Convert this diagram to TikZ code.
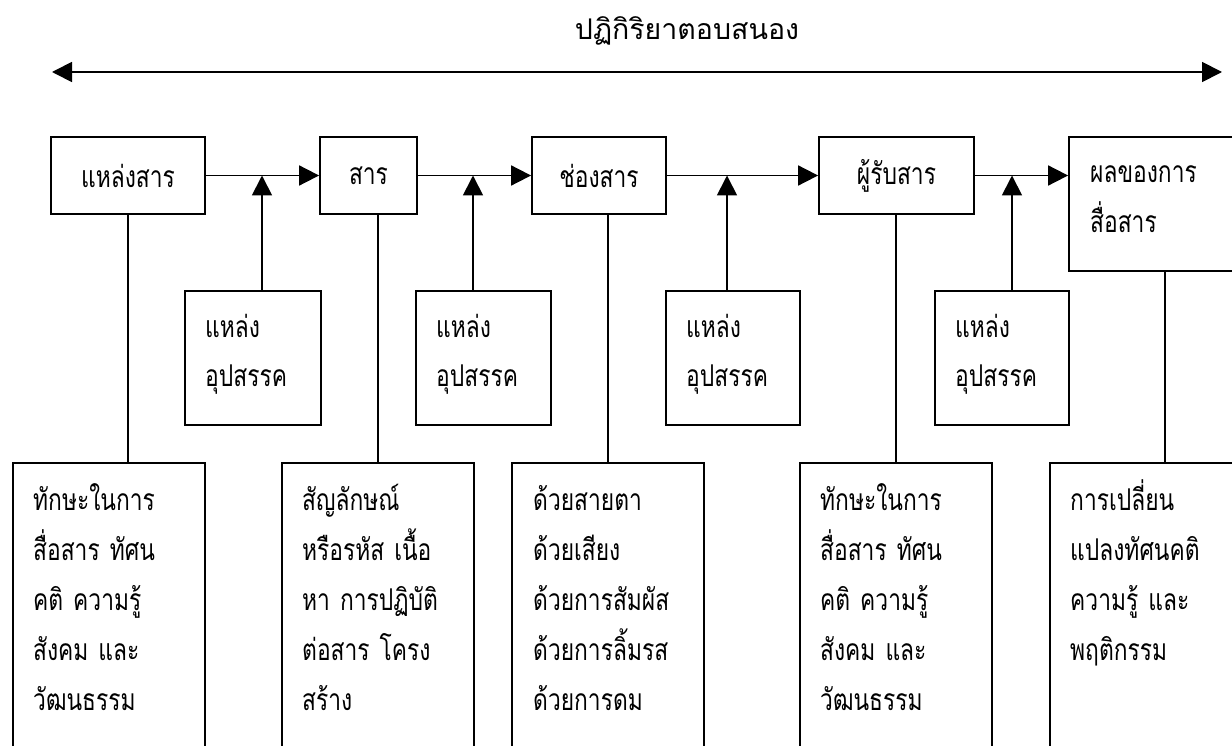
\documentclass[tikz,border=0pt]{standalone}
\usepackage{fontspec}
\newfontfamily\thai[Script=Thai]{Loma}
\newfontfamily\thaib[Script=Thai,FakeStretch=0.76]{Loma}
\usetikzlibrary{arrows.meta}
\begin{document}
\begin{tikzpicture}[x=1pt,y=-1pt,
  ln/.style={line width=1.8pt},
  arr/.style={ln,-{Triangle[length=20pt,width=20pt]}},
  dbl/.style={ln,{Triangle[length=20pt,width=20pt]}-{Triangle[length=20pt,width=20pt]}},
  box/.style={draw,line width=1.8pt,inner sep=0pt,font=\thaib\fontsize{30}{50}\selectfont},
  topbox/.style={box,minimum height=77pt},
  obbox/.style={box,minimum width=135pt,minimum height=134pt},
  btmbox/.style={box,minimum width=192pt,minimum height=317pt},
  txt/.style={inner sep=0pt,anchor=base west,text width=190pt,align=left,font=\thaib\fontsize{30}{50}\selectfont},
  ttl/.style={inner sep=0pt,anchor=base,font=\thai\fontsize{28.5}{36}\selectfont}
]
\useasboundingbox (0,0) rectangle (1232,746);
\clip (0,0) rectangle (1232,746);
\fill[white] (0,0) rectangle (1232,746);

% title and double arrow
\node[ttl] (title) at (687,40) {ปฏิกิริยาตอบสนอง};
\coordinate (la) at (52,72);
\coordinate (ra) at (1222,72);
\draw[dbl] (la) -- (ra);

% top row
\node[topbox,minimum width=154pt] (src) at (128,175.5) {แหล่งสาร};
\node[topbox,minimum width=97pt] (msg) at (368.5,175.5) {สาร};
\node[topbox,minimum width=134pt] (chan) at (599,175.5) {ช่องสาร};
\node[topbox,minimum width=155pt] (recv) at (896.5,175.5) {ผู้รับสาร};
\node[box,minimum width=192pt,minimum height=134pt] (eff) at (1165,204) {};
\node[txt] (efft) at (1090,183) {ผลของการ\\สื่อสาร};

\draw[arr] (src.east) -- (msg.west);
\draw[arr] (msg.east) -- (chan.west);
\draw[arr] (chan.east) -- (recv.west);
\draw[arr] (recv.east) -- (eff.west |- recv.east);

% obstacle boxes
\node[obbox,minimum width=136pt] (ob1) at (253,358) {};
\node[obbox] (ob2) at (483.5,358) {};
\node[obbox,minimum width=134pt] (ob3) at (733,358) {};
\node[obbox,minimum width=134pt] (ob4) at (1002,358) {};
\node[txt] (ob1t) at (205,337) {แหล่ง\\อุปสรรค};
\node[txt] (ob2t) at (436,337) {แหล่ง\\อุปสรรค};
\node[txt] (ob3t) at (686,337) {แหล่ง\\อุปสรรค};
\node[txt] (ob4t) at (955,337) {แหล่ง\\อุปสรรค};

\coordinate (j1) at (262,175.5);
\coordinate (j2) at (473,175.5);
\coordinate (j3) at (727,175.5);
\coordinate (j4) at (1012,175.5);
\draw[arr] (ob1.north -| j1) -- (j1);
\draw[arr] (ob2.north -| j2) -- (j2);
\draw[arr] (ob3.north -| j3) -- (j3);
\draw[arr] (ob4.north -| j4) -- (j4);

% bottom boxes
\node[btmbox] (d1) at (109,621.5) {};
\node[btmbox] (d2) at (378,621.5) {};
\node[btmbox] (d3) at (608,621.5) {};
\node[btmbox] (d4) at (896,621.5) {};
\node[btmbox] (d5) at (1146,621.5) {};

\node[txt] (d1t) at (33,510) {ทักษะในการ\\สื่อสาร ทัศน\\คติ ความรู้\\สังคม และ\\วัฒนธรรม};
\node[txt] (d2t) at (302,510) {สัญลักษณ์\\หรือรหัส เนื้อ\\หา การปฏิบัติ\\ต่อสาร โครง\\สร้าง};
\node[txt] (d3t) at (533,510) {ด้วยสายตา\\ด้วยเสียง\\ด้วยการสัมผัส\\ด้วยการลิ้มรส\\ด้วยการดม};
\node[txt] (d4t) at (820,510) {ทักษะในการ\\สื่อสาร ทัศน\\คติ ความรู้\\สังคม และ\\วัฒนธรรม};
\node[txt] (d5t) at (1070,510) {การเปลี่ยน\\แปลงทัศนคติ\\ความรู้ และ\\พฤติกรรม};

% vertical links
\draw[ln] (src.south) -- (src.south |- d1.north);
\draw[ln] ([xshift=9.5pt]msg.south) -- (d2.north);
\draw[ln] ([xshift=9pt]chan.south) -- (d3.north);
\draw[ln] (recv.south -| d4.north) -- (d4.north);
\draw[ln] (eff.south) -- (eff.south |- d5.north);
\end{tikzpicture}
\end{document}
